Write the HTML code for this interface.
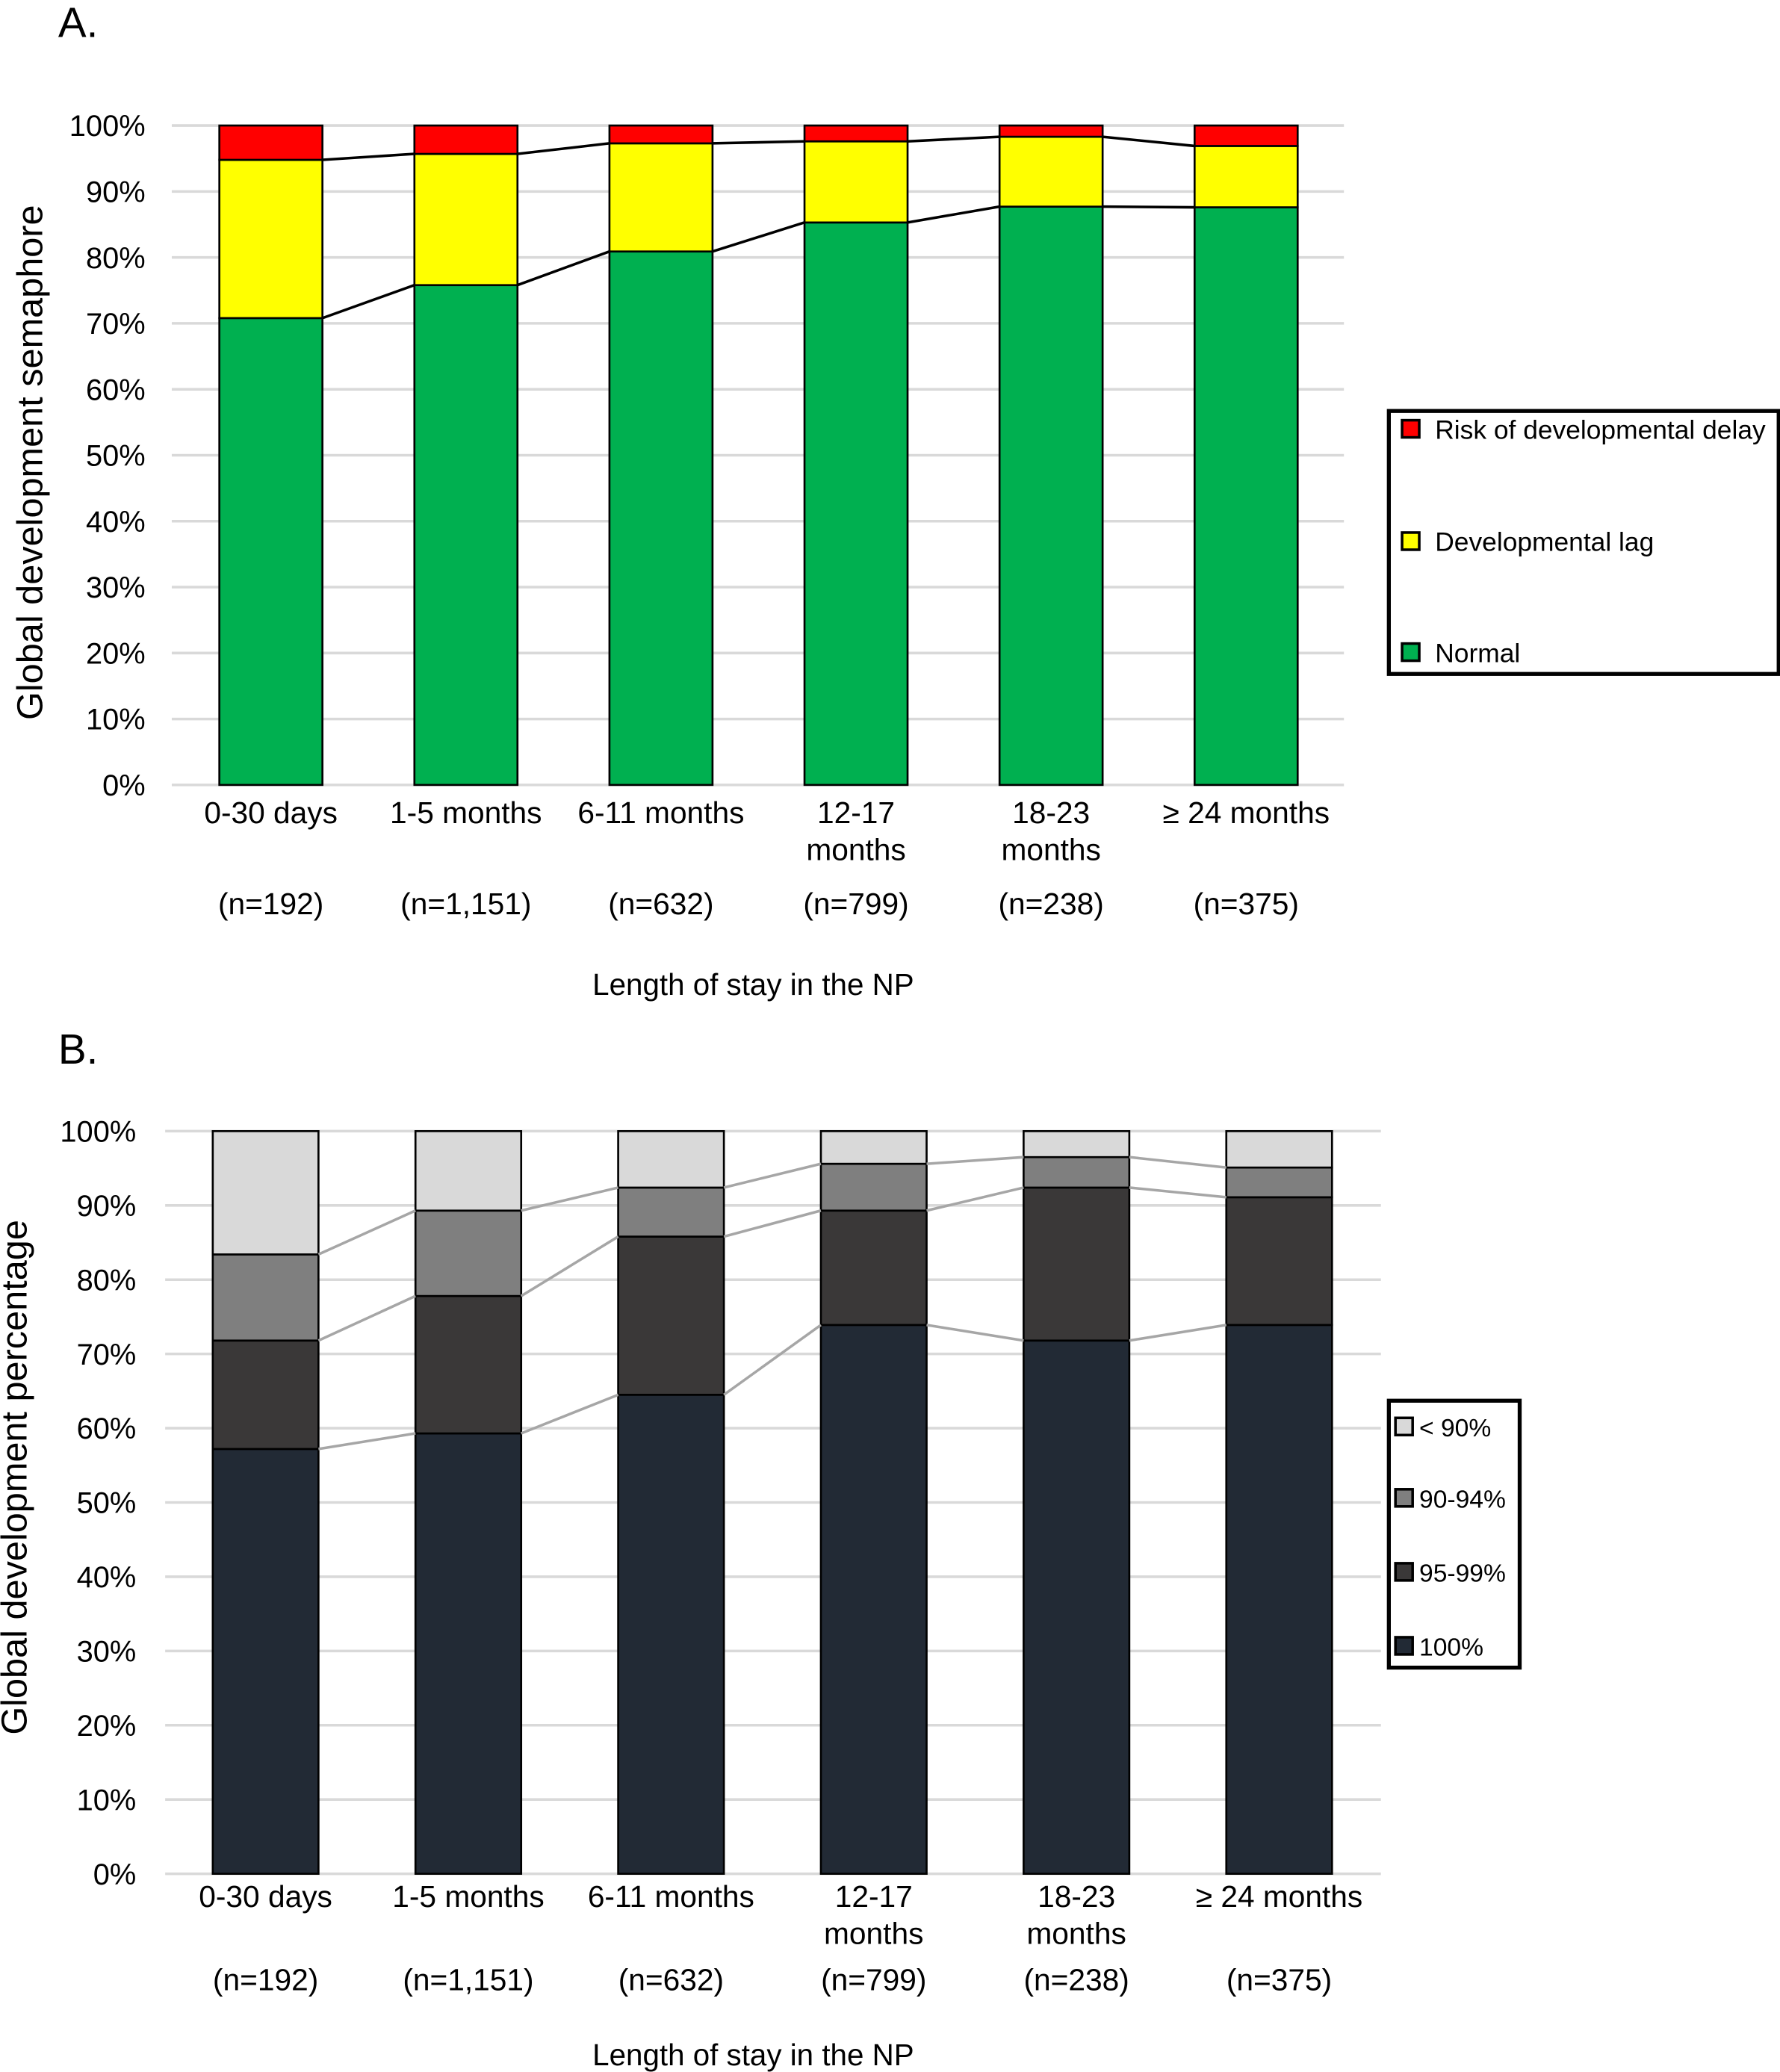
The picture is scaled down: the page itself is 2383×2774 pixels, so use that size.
<!DOCTYPE html>
<html><head><meta charset="utf-8"><style>
html,body{margin:0;padding:0;background:#fff}
svg{display:block}
text{font-family:"Liberation Sans",Arial,sans-serif;fill:#000}
</style></head><body>
<svg id="s" width="2383" height="2774" viewBox="0 0 1347 1568" xmlns="http://www.w3.org/2000/svg">
<text x="44" y="28" font-size="32">A.</text>
<text x="44" y="805" font-size="32">B.</text>
<g id="ga"></g>
<g id="gb"></g>
</svg>
<script>
const categoriesL1 = ["0-30 days","1-5 months","6-11 months","12-17","18-23","\u2265 24 months"];
const categoriesL2 = ["","","","months","months",""];
const nLabels = ["(n=192)","(n=1,151)","(n=632)","(n=799)","(n=238)","(n=375)"];
const yTicks = [0,10,20,30,40,50,60,70,80,90,100];
// Chart A cumulative tops
const aNormal = [70.8,75.8,80.9,85.3,87.7,87.6];
const aLagTop = [94.8,95.7,97.3,97.6,98.3,96.9];
const aRiskTop = [100,100,100,100,100,100];
// Chart B cumulative tops
const b100 = [57.2,59.3,64.5,73.9,71.8,73.9];
const b9599Top = [71.8,77.8,85.8,89.3,92.4,91.1];
const b9094Top = [83.4,89.3,92.4,95.6,96.5,95.1];
const bLt90Top = [100,100,100,100,100,100];

const NS="http://www.w3.org/2000/svg";
function mk(parent,tag,attrs,text){const e=document.createElementNS(NS,tag);for(const k in attrs)e.setAttribute(k,attrs[k]);if(text!==undefined)e.textContent=text;parent.appendChild(e);return e;}

function drawChart(g,cfg){
  const y=v=>cfg.y0-(cfg.y0-cfg.y100)*v/100;
  const x=i=>cfg.c0+i*cfg.step;
  yTicks.forEach(t=>{
    const l=mk(g,'line',{x1:cfg.xl,x2:cfg.xr,y1:y(t),y2:y(t),stroke:'#d9d9d9','stroke-width':2});
    
    
    const tx=mk(g,'text',{x:cfg.tickX,y:y(t)+8,'font-size':22.5,'text-anchor':'end'},t+'%');
    
    
  });
  const bw=cfg.bw;
  categoriesL1.forEach((c,i)=>{
    let prev=0;
    cfg.series.forEach((s,k)=>{
      const v=s.vals[i];
      const r=mk(g,'rect',{x:x(i)-bw/2,y:y(v),width:bw,height:y(prev)-y(v),fill:s.color,stroke:'#000','stroke-width':1.5});
      
      
      prev=v;
    });
    const t1=mk(g,'text',{x:x(i),y:cfg.l1y,'font-size':23,'text-anchor':'middle'},c);
    
    
    if(categoriesL2[i]){const t2=mk(g,'text',{x:x(i),y:cfg.l1y+28,'font-size':23,'text-anchor':'middle'},categoriesL2[i]);
      
      }
    const t3=mk(g,'text',{x:x(i),y:cfg.ny,'font-size':23,'text-anchor':'middle'},nLabels[i]);
    
    
  });
  cfg.series.slice(0,-1).forEach(s=>{
    for(let i=0;i<5;i++){
      const l=mk(g,'line',{x1:x(i)+bw/2,y1:y(s.vals[i]),x2:x(i+1)-bw/2,y2:y(s.vals[i+1]),stroke:cfg.connColor,'stroke-width':2});
      
      
    }
  });
  const yt=mk(g,'text',{x:0,y:0,'font-size':27.5,'text-anchor':'middle',transform:`translate(${cfg.ytX},${cfg.ytY}) rotate(-90)`},cfg.yTitle);
  
  
  const xt=mk(g,'text',{x:570,y:cfg.xtY,'font-size':22.8,'text-anchor':'middle'},'Length of stay in the NP');
  
  
  const L=cfg.legend;
  const box=mk(g,'rect',{x:L.x,y:L.y,width:L.w,height:L.h,fill:'#fff',stroke:'#000','stroke-width':3});
  
  
  L.items.forEach((it,k)=>{
    const sw=mk(g,'rect',{x:L.x+L.sx,y:L.ys[k]-7,width:13,height:13,fill:it.color,stroke:'#000','stroke-width':2});
    
    
    const tx=mk(g,'text',{x:L.x+L.tx,y:L.ys[k]+7,'font-size':L.fs},it.label);
    
    
  });
}

drawChart(document.getElementById('ga'),{
  y0:594,y100:95,c0:205,step:147.6,bw:78,xl:130,xr:1017,tickX:110,l1y:623,ny:692,xtY:753,ytX:32,ytY:350,
  yTitle:'Global development semaphore',connColor:'#000',
  series:[{key:'normal',vals:aNormal,color:'#00b050'},{key:'lag',vals:aLagTop,color:'#ffff00'},{key:'risk',vals:aRiskTop,color:'#ff0000'}],
  legend:{x:1051,y:311,w:295,h:199,sx:10,tx:35,fs:20,ys:[325,410,494],items:[{label:'Risk of developmental delay',color:'#ff0000'},{label:'Developmental lag',color:'#ffff00'},{label:'Normal',color:'#00b050'}]}
});
drawChart(document.getElementById('gb'),{
  y0:1418,y100:856,c0:201,step:153.4,bw:80,xl:125,xr:1045,tickX:103,l1y:1443,ny:1506,xtY:1563,ytX:20,ytY:1118,
  yTitle:'Global development percentage',connColor:'#a6a6a6',
  series:[{key:'p100',vals:b100,color:'#222a35'},{key:'p95-99',vals:b9599Top,color:'#3a3838'},{key:'p90-94',vals:b9094Top,color:'#7f7f7f'},{key:'lt90',vals:bLt90Top,color:'#d9d9d9'}],
  legend:{x:1051,y:1060,w:99,h:202,sx:5,tx:23,fs:19,ys:[1080,1134,1190,1246],items:[{label:'< 90%',color:'#d9d9d9'},{label:'90-94%',color:'#7f7f7f'},{label:'95-99%',color:'#3a3838'},{label:'100%',color:'#222a35'}]}
});
</script>
</body></html>
